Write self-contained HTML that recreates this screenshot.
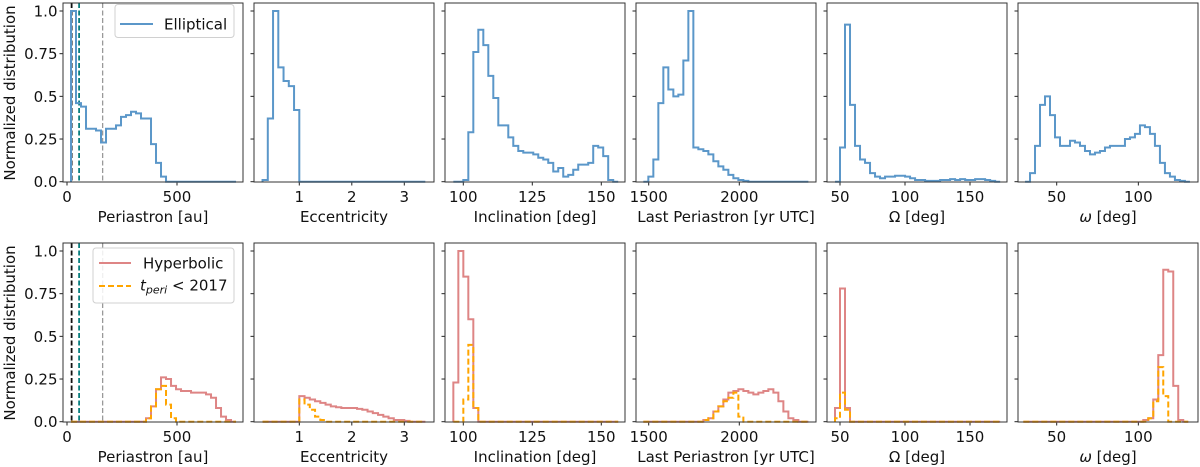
<!DOCTYPE html>
<html><head><meta charset="utf-8"><style>
html,body{margin:0;padding:0;background:#fff;}
svg{display:block;font-family:"DejaVu Sans","Liberation Sans",sans-serif;}
</style></head><body>
<svg id="chart" width="1200" height="467" viewBox="0 0 1200 467" xmlns="http://www.w3.org/2000/svg"></svg>
<script>
// ---- data ----
const panelLabels = ["Periastron [au]", "Eccentricity", "Inclination [deg]", "Last Periastron [yr UTC]", "Ω [deg]", "ω [deg]"];
const xTicks = [[0, 500], [1, 2, 3], [100, 125, 150], [1500, 2000], [50, 100, 150], [50, 100]];
const yTicks = [0, 0.25, 0.5, 0.75, 1.0];
const yTickLabels = ["0.0", "0.25", "0.5", "0.75", "1.0"];
const binStartEll = [18.2, 0.3, 96.39, 1470.4, 46.15, 30.6];
const binStartHyp = [18.2, 0.3, 96.39, 1470.4, 46.15, 29.57];
const binWidth = [22.73, 0.1, 1.81, 27.6, 3.85, 3.06];
const markerLines = [21, 55, 162];

const ellPeri = [1.0,0.46,0.44,0.31,0.31,0.30,0.23,0.31,0.31,0.33,0.38,0.39,0.41,0.40,0.37,0.37,0.22,0.11,0.03,0,0,0,0,0,0,0,0,0,0,0,0,0,0];
const hypPeri = [0,0,0,0,0,0,0,0,0,0,0,0,0,0,0,0.02,0.09,0.19,0.26,0.25,0.21,0.19,0.18,0.18,0.17,0.17,0.17,0.16,0.14,0.08,0.03,0.01,0];
const orgPeri = [0,0,0,0,0,0,0,0,0,0,0,0,0,0,0,0.02,0.09,0.19,0.21,0.10,0.02,0,0,0,0,0,0,0,0,0,0,0,0];

const ellEcc = [0.01,0.37,1.0,0.67,0.59,0.56,0.42,0,0,0,0,0,0,0,0,0,0,0,0,0,0,0,0,0,0,0,0,0,0,0,0];
const hypEcc = [0,0,0,0,0,0,0,0.15,0.14,0.13,0.12,0.11,0.10,0.09,0.085,0.08,0.08,0.08,0.075,0.07,0.06,0.05,0.04,0.03,0.02,0.01,0.01,0.005,0,0,0];
const orgEcc = [0,0,0,0,0,0,0,0.13,0.10,0.07,0.03,0.01,0,0,0,0,0,0,0,0,0,0,0,0,0,0,0,0,0,0,0];

const ellInc = [0,0,0.01,0.29,0.76,0.89,0.80,0.62,0.49,0.33,0.33,0.26,0.21,0.18,0.17,0.17,0.16,0.14,0.13,0.11,0.06,0.08,0.03,0.04,0.07,0.10,0.10,0.11,0.21,0.20,0.15,0.01,0];
const hypInc = [0.23,1.0,0.85,0.60,0.08,0,0,0,0,0,0,0,0,0,0,0,0,0,0,0,0,0,0,0,0,0,0,0,0,0,0,0,0];
const orgInc = [0,0,0.13,0.45,0.08,0,0,0,0,0,0,0,0,0,0,0,0,0,0,0,0,0,0,0,0,0,0,0,0,0,0,0,0];

const ellT = [0,0.03,0.13,0.46,0.67,0.54,0.50,0.51,0.71,1.0,0.20,0.19,0.18,0.16,0.12,0.09,0.07,0.04,0.02,0.01,0.005,0,0,0,0,0,0,0,0,0,0,0,0];
const hypT = [0,0,0,0,0,0,0,0,0,0,0,0,0.01,0.02,0.06,0.09,0.13,0.17,0.18,0.19,0.18,0.17,0.16,0.17,0.18,0.19,0.17,0.12,0.06,0.02,0.01,0,0];
const orgT = [0,0,0,0,0,0,0,0,0,0,0,0,0.01,0.02,0.06,0.09,0.12,0.14,0.17,0.03,0,0,0,0,0,0,0,0,0,0,0,0,0];

const ellNode = [0,0.2,0.92,0.45,0.21,0.13,0.11,0.05,0.03,0.02,0.03,0.03,0.035,0.035,0.03,0.02,0.01,0.01,0.005,0.005,0.005,0.01,0.01,0.015,0.01,0.015,0.01,0.01,0.015,0.015,0.01,0.005,0];
const hypNode = [0.08,0.78,0.08,0,0,0,0,0,0,0,0,0,0,0,0,0,0,0,0,0,0,0,0,0,0,0,0,0,0,0,0,0,0];
const orgNode = [0.02,0.17,0.07,0,0,0,0,0,0,0,0,0,0,0,0,0,0,0,0,0,0,0,0,0,0,0,0,0,0,0,0,0,0];

const ellArg = [0,0.05,0.21,0.45,0.50,0.39,0.26,0.21,0.21,0.24,0.23,0.21,0.18,0.16,0.17,0.18,0.20,0.21,0.21,0.21,0.25,0.26,0.28,0.33,0.32,0.28,0.21,0.11,0.05,0.03,0.01,0.005,0];
const hypArg = [0,0,0,0,0,0,0,0,0,0,0,0,0,0,0,0,0,0,0,0,0,0,0,0,0.01,0.02,0.13,0.39,0.89,0.88,0.21,0.01,0];
const orgArg = [0,0,0,0,0,0,0,0,0,0,0,0,0,0,0,0,0,0,0,0,0,0,0,0,0,0.02,0.12,0.32,0.15,0,0,0,0];

const ellSeries = [ellPeri, ellEcc, ellInc, ellT, ellNode, ellArg];
const hypSeries = [hypPeri, hypEcc, hypInc, hypT, hypNode, hypArg];
const orgSeries = [orgPeri, orgEcc, orgInc, orgT, orgNode, orgArg];

// ---- layout ----
const NS = "http://www.w3.org/2000/svg";
const svg = document.getElementById("chart");
const panelLeft = [63, 254, 445, 636, 827, 1018];
const panelW = 180, panelH = 179;
const rowTop = [3, 243];
const FS = 15;
const xRef = [[0, 4, 0.22], [1, 45.3, 52.5], [100, 18.3, 2.76], [1500, 12.7, 0.1812], [50, 13, 1.3], [50, 38.7, 1.633]];
function xs(p, v) { return panelLeft[p] + xRef[p][1] + (v - xRef[p][0]) * xRef[p][2]; }
function ys(r, v) { return rowTop[r] + 178.7 - v * 170.7; }
function mk(tag, attrs, parent) {
  const e = document.createElementNS(NS, tag);
  for (const k in attrs) e.setAttribute(k, attrs[k]);
  (parent || svg).appendChild(e);
  return e;
}
function histPath(p, r, start, w, vals) {
  let d = "M" + xs(p, start).toFixed(2) + "," + ys(r, 0).toFixed(2);
  for (let i = 0; i < vals.length; i++) {
    const x0 = xs(p, start + i * w), x1 = xs(p, start + (i + 1) * w), y = ys(r, vals[i]);
    d += " L" + x0.toFixed(2) + "," + y.toFixed(2) + " L" + x1.toFixed(2) + "," + y.toFixed(2);
  }
  d += " L" + xs(p, start + vals.length * w).toFixed(2) + "," + ys(r, 0).toFixed(2);
  return d;
}

for (let r = 0; r < 2; r++) {
  for (let p = 0; p < 6; p++) {
    const g = mk("g", {});
    
    
    const L = panelLeft[p], T = rowTop[r];
    yTicks.forEach((v, i) => {
      const y = ys(r, v);
      const t = mk("line", { x1: L - 3.5, x2: L, y1: y, y2: y, stroke: "#222", "stroke-width": 1 }, g);
      
      
      if (p === 0) {
        const lb = mk("text", { x: L - 5.5, y: y + 5.5, "text-anchor": "end", "font-size": FS, fill: "#111" }, g);
        lb.textContent = yTickLabels[i];
        
        
      }
    });
    xTicks[p].forEach(v => {
      const x = xs(p, v);
      const t = mk("line", { x1: x, x2: x, y1: T + panelH, y2: T + panelH + 3.5, stroke: "#222", "stroke-width": 1 }, g);
      
      
      const lb = mk("text", { x: x, y: T + 199, "text-anchor": "middle", "font-size": FS, fill: "#111" }, g);
      lb.textContent = String(v);
      
      
    });
    const xl = mk("text", { x: L + panelW / 2, y: T + 219, "text-anchor": "middle", "font-size": FS, fill: "#111" }, g);
    if (p === 5) {
      const a = mk("tspan", { "font-style": "italic" }, xl); a.textContent = "ω";
      const b = mk("tspan", {}, xl); b.textContent = " [deg]";
    } else xl.textContent = panelLabels[p];
    
    

    if (p === 0) {
      const cols = ["#111", "#0a7f7f", "#999"];
      markerLines.forEach((v, i) => {
        const x = xs(0, v);
        const ln = mk("line", { x1: x, x2: x, y1: T, y2: T + panelH, stroke: cols[i], "stroke-width": i === 2 ? 1.3 : 1.8, "stroke-dasharray": "5,2.5" }, g);
        
        
      });
    }
    if (r === 0) {
      const h = mk("path", { d: histPath(p, 0, binStartEll[p], binWidth[p], ellSeries[p]), fill: "none", stroke: "#5b97c9", "stroke-width": 2 }, g);
      
      
    } else {
      const h = mk("path", { d: histPath(p, 1, binStartHyp[p], binWidth[p], hypSeries[p]), fill: "none", stroke: "#de8585", "stroke-width": 2 }, g);
      
      
      const o = mk("path", { d: histPath(p, 1, binStartHyp[p], binWidth[p], orgSeries[p]), fill: "none", stroke: "#ffa500", "stroke-width": 2, "stroke-dasharray": "6,3" }, g);
      
      
    }
    const fr = mk("rect", { x: L, y: T, width: panelW, height: panelH, fill: "none", stroke: "#333", "stroke-width": 1 }, g);
    
    
  }
  const yl = mk("text", { x: 0, y: 0, transform: "translate(15," + (rowTop[r] + 90) + ") rotate(-90)", "text-anchor": "middle", "font-size": FS, fill: "#111" });
  yl.textContent = "Normalized distribution";
  
  
}

const lg1 = mk("g", {});


mk("rect", { x: 115, y: 4.5, width: 119, height: 33, rx: 3, fill: "#fff", "fill-opacity": 0.85, stroke: "#d0d0d0" }, lg1);
mk("line", { x1: 120, x2: 153, y1: 24, y2: 24, stroke: "#5b97c9", "stroke-width": 2 }, lg1);
const t1 = mk("text", { x: 164, y: 29.5, "font-size": FS, fill: "#111" }, lg1); t1.textContent = "Elliptical";

const lg2 = mk("g", {});


mk("rect", { x: 93, y: 248, width: 141, height: 55, rx: 3, fill: "#fff", "fill-opacity": 0.85, stroke: "#d0d0d0" }, lg2);
mk("line", { x1: 99, x2: 131, y1: 263, y2: 263, stroke: "#de8585", "stroke-width": 2 }, lg2);
const t2 = mk("text", { x: 143, y: 268.5, "font-size": FS, fill: "#111" }, lg2); t2.textContent = "Hyperbolic";
mk("line", { x1: 99, x2: 131, y1: 286, y2: 286, stroke: "#ffa500", "stroke-width": 2, "stroke-dasharray": "6,3" }, lg2);
const t3 = mk("text", { x: 140, y: 290.5, "font-size": FS, fill: "#111" }, lg2);
const s1 = mk("tspan", { "font-style": "italic" }, t3); s1.textContent = "t";
const s2 = mk("tspan", { "font-style": "italic", "font-size": 11, dy: 3 }, t3); s2.textContent = "peri";
const s3 = mk("tspan", { dy: -3 }, t3); s3.textContent = " < 2017";
</script>
</body></html>
